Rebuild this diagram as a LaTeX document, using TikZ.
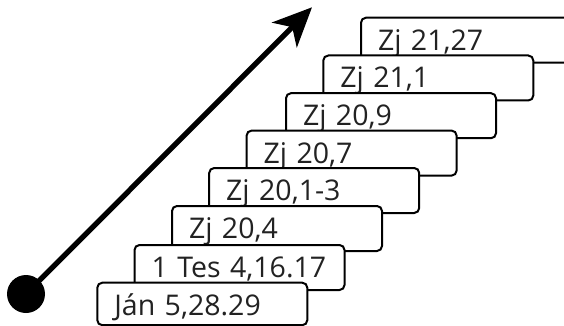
\documentclass[tikz,border=0pt]{standalone}
\usepackage{fontspec}
\setmainfont{Open Sans}
\usetikzlibrary{arrows.meta}
\definecolor{textgray}{HTML}{222222}
\begin{document}
\begin{tikzpicture}[x=1pt,y=-1pt,
  stepbox/.style={draw=black, fill=white, line width=2pt, rounded corners=5pt,
    anchor=north west, inner xsep=17pt, inner ysep=0pt, text width=176pt, align=left,
    text height=32.5pt, text depth=12.5pt, text=textgray, font=\fontsize{28.5}{30}\selectfont},
  lastbox/.style={stepbox, text depth=10pt},
  dotstyle/.style={circle, fill=black, minimum size=38pt, inner sep=0pt},
  arrowline/.style={line width=5.3pt, -{Stealth[length=39pt,width=35pt,inset=11pt]}}]
\useasboundingbox (0,0) rectangle (564,326);
\node[dotstyle] (dot) at (26,294) {};
\coordinate (tip) at (312,7.3);
\draw[arrowline] (dot.center) -- (tip);
\node[stepbox] (b1) at (360,16.7) {Zj 21,27};
\node[stepbox] (b2) at (322.3,54.5) {Zj 21,1};
\node[stepbox] (b3) at (285,92.2) {Zj 20,9};
\node[stepbox] (b4) at (245.6,129.6) {Zj 20,7};
\node[stepbox] (b5) at (208.2,167) {Zj 20,1-3};
\node[stepbox] (b6) at (171,205) {Zj 20,4};
\node[stepbox] (b7) at (133.5,244) {1 Tes 4,16.17};
\node[lastbox] (b8) at (96.3,281.7) {Ján 5,28.29};
\end{tikzpicture}
\end{document}
